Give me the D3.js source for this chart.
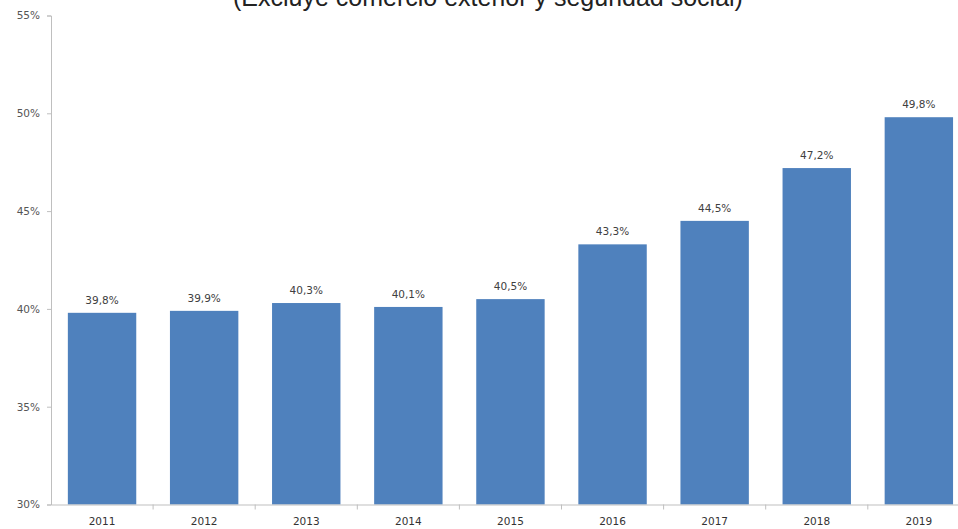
<!DOCTYPE html>
<html><head><meta charset="utf-8">
<script src="https://cdn.jsdelivr.net/npm/d3@7"></script>
<style>html,body{margin:0;padding:0;background:#fff;overflow:hidden}</style>
</head><body>
<svg id="chart" width="958" height="529"></svg>
<script>
const title = "(Excluye comercio exterior y seguridad social)";
const categories = ["2011","2012","2013","2014","2015","2016","2017","2018","2019"];
const values = [39.8, 39.9, 40.3, 40.1, 40.5, 43.3, 44.5, 47.2, 49.8];
const yTicks = [30, 35, 40, 45, 50, 55];
const fmt = v => v.toFixed(1).replace(".", ",") + "%";

(function(){
const svg = d3.select("#chart");
const mLeft = 51, mTop = 15.5, mBottom = 504.5, step = 102.1;
const font = "DejaVu Sans, Liberation Sans, sans-serif";
const x = d3.scaleBand().domain(categories).range([mLeft, mLeft + step*categories.length]).paddingInner(0.33).paddingOuter(0.165);
const y = d3.scaleLinear().domain([30, 55]).range([mBottom, mTop]);

svg.append("text").attr("x", 488).attr("y", 6).attr("text-anchor","middle")
  .attr("font-family","Liberation Sans, Arial, sans-serif").attr("font-size", 25).attr("fill","#222").text(title);

svg.selectAll("rect.bar").data(values).join("rect").attr("class","bar")
  .attr("x",(d,i)=>x(categories[i])).attr("width",x.bandwidth())
  .attr("y",d=>y(d)).attr("height",d=>y(30)-y(d)).attr("fill","#4f81bd");

svg.selectAll("text.val").data(values).join("text").attr("class","val")
  .attr("x",(d,i)=>x(categories[i])+x.bandwidth()/2).attr("y",d=>y(d)-9)
  .attr("text-anchor","middle").attr("font-family",font)
  .attr("font-size",10.5).attr("fill","#404040").text(d=>fmt(d));

const ya = svg.append("g").attr("transform",`translate(${mLeft},0)`)
  .call(d3.axisLeft(y).tickValues(yTicks).tickSize(4).tickPadding(7).tickFormat(d=>d+"%"));
ya.select(".domain").attr("stroke","#bfbfbf");
ya.selectAll(".tick line").attr("stroke","#bfbfbf");
ya.selectAll(".tick text").attr("font-family",font).attr("font-size",10.5).attr("fill","#555");

const xa = svg.append("g").attr("transform",`translate(0,${mBottom})`)
  .call(d3.axisBottom(x).tickSize(0).tickPadding(13));
xa.select(".domain").attr("stroke","#bfbfbf");
xa.selectAll(".tick text").attr("font-family",font).attr("font-size",10.5).attr("fill","#333");
const bounds = categories.slice(1).map(c => x(c) - x.step()*x.paddingInner()/2);
xa.selectAll("line.bt").data(bounds).join("line").attr("class","bt")
  .attr("x1",d=>d).attr("x2",d=>d).attr("y1",0).attr("y2",5).attr("stroke","#bfbfbf");
})();
</script>
</body></html>
